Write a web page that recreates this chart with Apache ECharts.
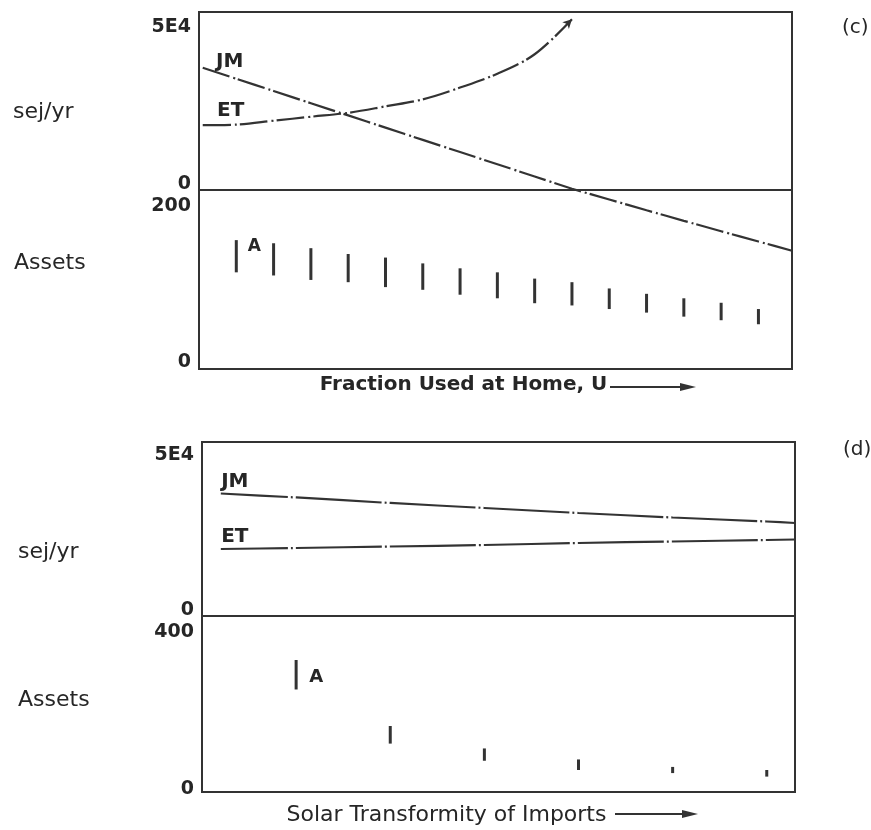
<!DOCTYPE html>
<html>
<head>
<meta charset="utf-8">
<script src="https://cdn.jsdelivr.net/npm/echarts@6/dist/echarts.min.js"></script>
<style>html,body{margin:0;padding:0;background:#fff;}#chart{width:871px;height:830px;}</style>
</head>
<body>
<div id="chart"></div>
<script>
// ---- Panel (c): Fraction Used at Home, U ----
const lineXC = [0.1, 1, 2, 3, 4, 5, 6, 7, 8, 9, 10, 11, 12, 13, 14, 15, 15.9];
const jmC = [34320, 31240, 27810, 24370, 20950, 17520, 14080, 10660, 7230, 3790, 360, -2660, -5690, -8660, -11580, -14470, -17050];
const etXC = [0.1, 1, 2, 3, 4, 5, 6, 7, 8, 9, 10];
const etC = [18230, 18370, 19460, 20580, 21670, 23500, 25460, 28770, 32670, 38130, 47950];
const barXC = [1, 2, 3, 4, 5, 6, 7, 8, 9, 10, 11, 12, 13, 14, 15];
const assetHighC = [144, 140.5, 135, 128.5, 124.5, 118, 112.5, 108, 101, 97, 90, 84, 79, 74, 67];
const assetLowC = [108, 104.5, 99.5, 97, 91.5, 88.5, 83, 79, 73.5, 71, 67, 63, 58.5, 54.5, 50];

// ---- Panel (d): Solar Transformity of Imports ----
const lineXD = [0.2, 1, 2, 3, 4, 5, 6, 6.3];
const jmD = [35200, 34060, 32480, 31040, 29600, 28310, 27160, 26730];
const etD = [19260, 19540, 19970, 20400, 20980, 21410, 21840, 21990];
const barXD = [1, 2, 3, 4, 5, 6];
const assetHighD = [300, 150, 99, 74, 57, 50];
const assetLowD = [233, 110, 71, 50, 43, 35];

// ---- Tick labels / texts ----
const sejTicks = ['0', '5E4'];
const assetTicksC = ['0', '200'];
const assetTicksD = ['0', '400'];
const seriesNames = ['JM', 'ET'];
const assetLabel = 'A';

const FONT = 'DejaVu Sans';
const INK = '#262626';
const LINE = '#333333';

function yAx(grid, max, ticks, name, padHi, padLo, namePad, nameGap) {
  return {
    type: 'value', gridIndex: grid, min: 0, max: max, interval: max,
    axisLine: {show: false}, axisTick: {show: false}, splitLine: {show: false},
    axisLabel: {
      margin: 8,
      formatter: v => v >= max ? '{hi|' + ticks[1] + '}' : '{lo|' + ticks[0] + '}',
      rich: {
        hi: {padding: [padHi, 0, 0, 0], fontSize: 19, fontWeight: 'bold', color: INK, fontFamily: FONT},
        lo: {padding: [0, 0, padLo, 0], fontSize: 19, fontWeight: 'bold', color: INK, fontFamily: FONT}
      }
    },
    name: '{n|' + name + '}', nameLocation: 'middle', nameRotate: 0, nameGap: nameGap,
    nameTextStyle: {align: 'left', verticalAlign: 'middle', color: INK, fontFamily: FONT, fontSize: 22,
      rich: {n: {padding: namePad, fontSize: 22, color: INK, fontFamily: FONT}}}
  };
}

function xAx(grid, max, name, nameGap, pad, bold, size) {
  return {
    type: 'value', gridIndex: grid, min: 0, max: max,
    axisLine: {show: false}, axisTick: {show: false}, axisLabel: {show: false}, splitLine: {show: false},
    name: name || '', nameLocation: 'middle', nameGap: nameGap || 0,
    nameTextStyle: {fontSize: size || 20, fontWeight: bold ? 'bold' : 'normal', verticalAlign: 'middle', padding: pad || 0, color: INK, fontFamily: FONT}
  };
}

function lineSeries(xi, yi, xs, ys, dash, offset, smooth) {
  return {
    type: 'line', xAxisIndex: xi, yAxisIndex: yi, clip: false, showSymbol: false, smooth: smooth,
    data: xs.map((x, i) => [x, ys[i]]),
    lineStyle: {color: LINE, width: 2.2, type: dash, dashOffset: offset},
    silent: true
  };
}

function rangeSeries(xi, yi, xs, lo, hi, w) {
  return {
    type: 'custom', xAxisIndex: xi, yAxisIndex: yi,
    data: xs.map((x, i) => [x, lo[i], hi[i]]),
    encode: {x: 0, y: [1, 2]},
    renderItem: (params, api) => {
      const p1 = api.coord([api.value(0), api.value(1)]);
      const p2 = api.coord([api.value(0), api.value(2)]);
      return {type: 'line', shape: {x1: p1[0], y1: p1[1], x2: p2[0], y2: p2[1]}, style: {stroke: LINE, lineWidth: w}};
    },
    silent: true
  };
}

function labelSeries(xi, yi, x, y, text, offset, size) {
  return {
    type: 'scatter', xAxisIndex: xi, yAxisIndex: yi, symbolSize: 1,
    itemStyle: {color: 'rgba(0,0,0,0)'}, silent: true, clip: false,
    data: [[x, y]],
    label: {show: true, position: 'inside', offset: offset, formatter: text,
      fontSize: size, fontWeight: 'bold', color: INK, fontFamily: FONT,
      textBorderWidth: 0, textBorderColor: 'rgba(0,0,0,0)', opacity: 1}
  };
}

const gridStyle = {show: true, borderColor: LINE, borderWidth: 2, backgroundColor: 'transparent'};

const etCurveC = lineSeries(0, 0, etXC, etC, [28, 4, 2, 3], 0, 0.35);
etCurveC.markPoint = {
  silent: true, symbol: 'arrow', symbolSize: [7, 9], symbolRotate: -45,
  itemStyle: {color: LINE}, label: {show: false},
  data: [{coord: [etXC[etXC.length - 1], etC[etC.length - 1]]}]
};

const option = {
  animation: false,
  backgroundColor: '#fff',
  title: [
    {text: '(c)', left: 842, top: 18, padding: 0, textStyle: {fontSize: 20, fontWeight: 'normal', color: INK, fontFamily: FONT}},
    {text: '(d)', left: 843, top: 440, padding: 0, textStyle: {fontSize: 20, fontWeight: 'normal', color: INK, fontFamily: FONT}}
  ],
  grid: [
    Object.assign({left: 199, top: 12, width: 593, height: 178}, gridStyle),
    Object.assign({left: 199, top: 190, width: 593, height: 179}, gridStyle),
    Object.assign({left: 202, top: 442, width: 593, height: 174}, gridStyle),
    Object.assign({left: 202, top: 616, width: 593, height: 176}, gridStyle)
  ],
  xAxis: [
    xAx(0, 15.9),
    xAx(1, 15.9, 'Fraction Used at Home, U', 16, [0, 64, 0, 0], true, 20),
    xAx(2, 6.3),
    xAx(3, 6.3, 'Solar Transformity of Imports', 23, [0, 104, 0, 0], false, 22)
  ],
  yAxis: [
    yAx(0, 50000, sejTicks, 'sej/yr', 30, 12, [22, 0, 0, 0], 186),
    yAx(1, 200, assetTicksC, 'Assets', 32, 14, [0, 0, 32, 0], 185),
    yAx(2, 50000, sejTicks, 'sej/yr', 26, 12, [46, 0, 0, 0], 184),
    yAx(3, 400, assetTicksD, 'Assets', 32, 6, [0, 0, 8, 0], 184)
  ],
  series: [
    lineSeries(0, 0, lineXC, jmC, [28, 4, 2, 3], 0, 0.2),
    etCurveC,
    rangeSeries(1, 1, barXC, assetLowC, assetHighC, 3),
    labelSeries(0, 0, lineXC[0], jmC[0], seriesNames[0], [27, -6], 20),
    labelSeries(0, 0, etXC[0], etC[0], seriesNames[1], [28, -14], 20),
    labelSeries(1, 1, barXC[0], assetHighC[0], assetLabel, [18, 6], 17),
    lineSeries(2, 2, lineXD, jmD, [86, 3, 2, 3], 19, 0.2),
    lineSeries(2, 2, lineXD, etD, [86, 3, 2, 3], 19, 0.2),
    rangeSeries(3, 3, barXD, assetLowD, assetHighD, 3),
    labelSeries(2, 2, lineXD[0], jmD[0], seriesNames[0], [14, -12], 20),
    labelSeries(2, 2, lineXD[0], etD[0], seriesNames[1], [14, -12], 20),
    labelSeries(3, 3, barXD[0], assetHighD[0], assetLabel, [20, 17], 18)
  ],
  graphic: [
    {type: 'line', shape: {x1: 610, y1: 387, x2: 682, y2: 387}, style: {stroke: LINE, lineWidth: 2}},
    {type: 'polygon', shape: {points: [[680, 383], [696, 387], [680, 391]]}, style: {fill: LINE}},
    {type: 'line', shape: {x1: 615, y1: 814, x2: 684, y2: 814}, style: {stroke: LINE, lineWidth: 2}},
    {type: 'polygon', shape: {points: [[682, 810], [698, 814], [682, 818]]}, style: {fill: LINE}}
  ]
};

const chart = echarts.init(document.getElementById('chart'), null, {renderer: 'canvas'});
chart.setOption(option);
</script>
</body>
</html>
